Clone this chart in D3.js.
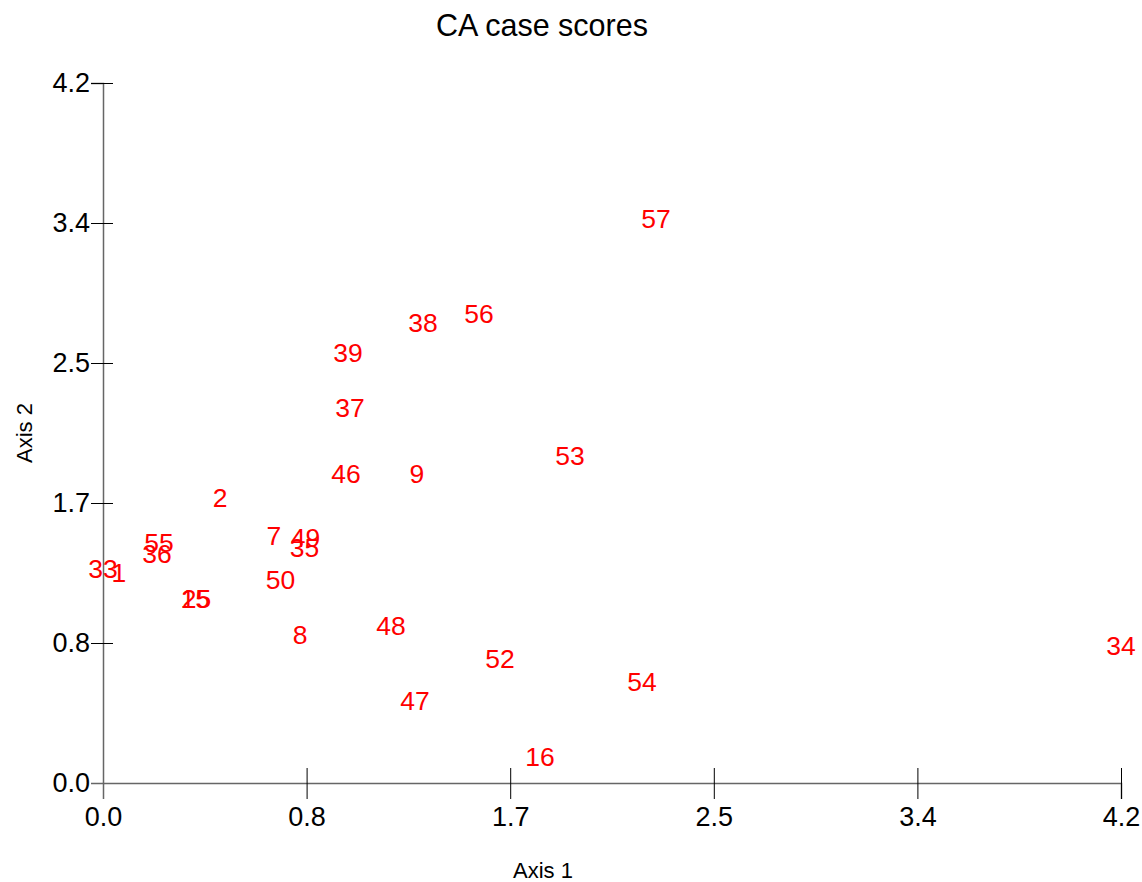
<!DOCTYPE html>
<html>
<head>
<meta charset="utf-8">
<script src="https://cdn.jsdelivr.net/npm/d3@7/dist/d3.min.js"></script>
<style>
  html, body { margin: 0; padding: 0; background: #fff; }
  svg { display: block; font-family: "Liberation Sans", Arial, sans-serif; }
</style>
</head>
<body>
<svg id="chart" width="1142" height="882"></svg>
<script>
// Case identifiers and their scores on the first two CA axes
const caseIds = ["57","56","38","39","37","53","46","9","2","7","49","35","55","36","33","1","50","15","25","8","48","52","54","47","16","34"];
const axis1Scores = [2.282,1.551,1.320,1.011,1.019,1.927,1.003,1.295,0.483,0.705,0.835,0.831,0.231,0.223,0.000,0.066,0.732,0.381,0.386,0.813,1.188,1.638,2.224,1.287,1.803,4.200];
const axis2Scores = [3.390,2.820,2.766,2.586,2.256,1.968,1.860,1.860,1.716,1.488,1.476,1.416,1.446,1.380,1.290,1.266,1.224,1.110,1.110,0.894,0.945,0.750,0.612,0.498,0.162,0.828];

// Axis ticks shared by both axes
const tickValues = [0, 0.84, 1.68, 2.52, 3.36, 4.2];
const tickLabels = ["0.0", "0.8", "1.7", "2.5", "3.4", "4.2"];

const svg = d3.select("#chart");
const plotLeft = 103, plotRight = 1121, plotTop = 83, plotBottom = 783;

const x = d3.scaleLinear().domain([0, 4.2]).range([plotLeft, plotRight]);
const y = d3.scaleLinear().domain([0, 4.2]).range([plotBottom, plotTop]);

const fmt = d => tickLabels[tickValues.indexOf(d)];

// Title
svg.append("text")
  .attr("x", 542).attr("y", 25).attr("dy", "0.36em")
  .attr("text-anchor", "middle")
  .attr("font-size", 30.5).attr("fill", "#000")
  .text("CA case scores");

// X axis
const gx = svg.append("g")
  .attr("transform", `translate(0,${plotBottom})`)
  .call(d3.axisBottom(x).tickValues(tickValues).tickFormat(fmt).tickSizeOuter(0).tickSize(16).tickPadding(0));
gx.select(".domain").attr("stroke", "#666").attr("stroke-width", 1.5);
gx.selectAll(".tick line").attr("y1", -15).attr("y2", 16).attr("stroke", "#000")
  .filter(d => d === 0).remove();
gx.selectAll(".tick text")
  .attr("y", 33).attr("dy", "0.36em")
  .attr("font-size", 27).attr("font-family", "\"Liberation Sans\", Arial, sans-serif").attr("fill", "#000");

// Y axis
const gy = svg.append("g")
  .attr("transform", `translate(${plotLeft},0)`)
  .call(d3.axisLeft(y).tickValues(tickValues).tickFormat(fmt).tickSizeOuter(0).tickSize(12).tickPadding(0));
gy.select(".domain").attr("stroke", "#666").attr("stroke-width", 1.5);
gy.selectAll(".tick line").attr("x1", -12).attr("x2", 10).attr("stroke", "#000")
  .filter(d => d === 0).remove();
gy.selectAll(".tick text")
  .attr("x", -13).attr("dy", "0.3em")
  .attr("font-size", 27).attr("font-family", "\"Liberation Sans\", Arial, sans-serif").attr("fill", "#000");

// Axis titles
svg.append("text")
  .attr("x", 543).attr("y", 870).attr("dy", "0.36em")
  .attr("text-anchor", "middle").attr("font-size", 22).attr("fill", "#000")
  .text("Axis 1");
svg.append("text")
  .attr("transform", "translate(24,433) rotate(-90)")
  .attr("dy", "0.36em")
  .attr("text-anchor", "middle").attr("font-size", 22).attr("fill", "#000")
  .text("Axis 2");

// Case labels drawn at their scores
const cases = caseIds.map((id, i) => ({ id, a1: axis1Scores[i], a2: axis2Scores[i] }));
svg.append("g")
  .selectAll("text")
  .data(cases)
  .join("text")
  .attr("x", d => x(d.a1))
  .attr("y", d => y(d.a2))
  .attr("dy", "0.36em")
  .attr("text-anchor", "middle")
  .attr("font-size", 26.5)
  .attr("fill", "#ff0000")
  .text(d => d.id);
</script>
</body>
</html>
